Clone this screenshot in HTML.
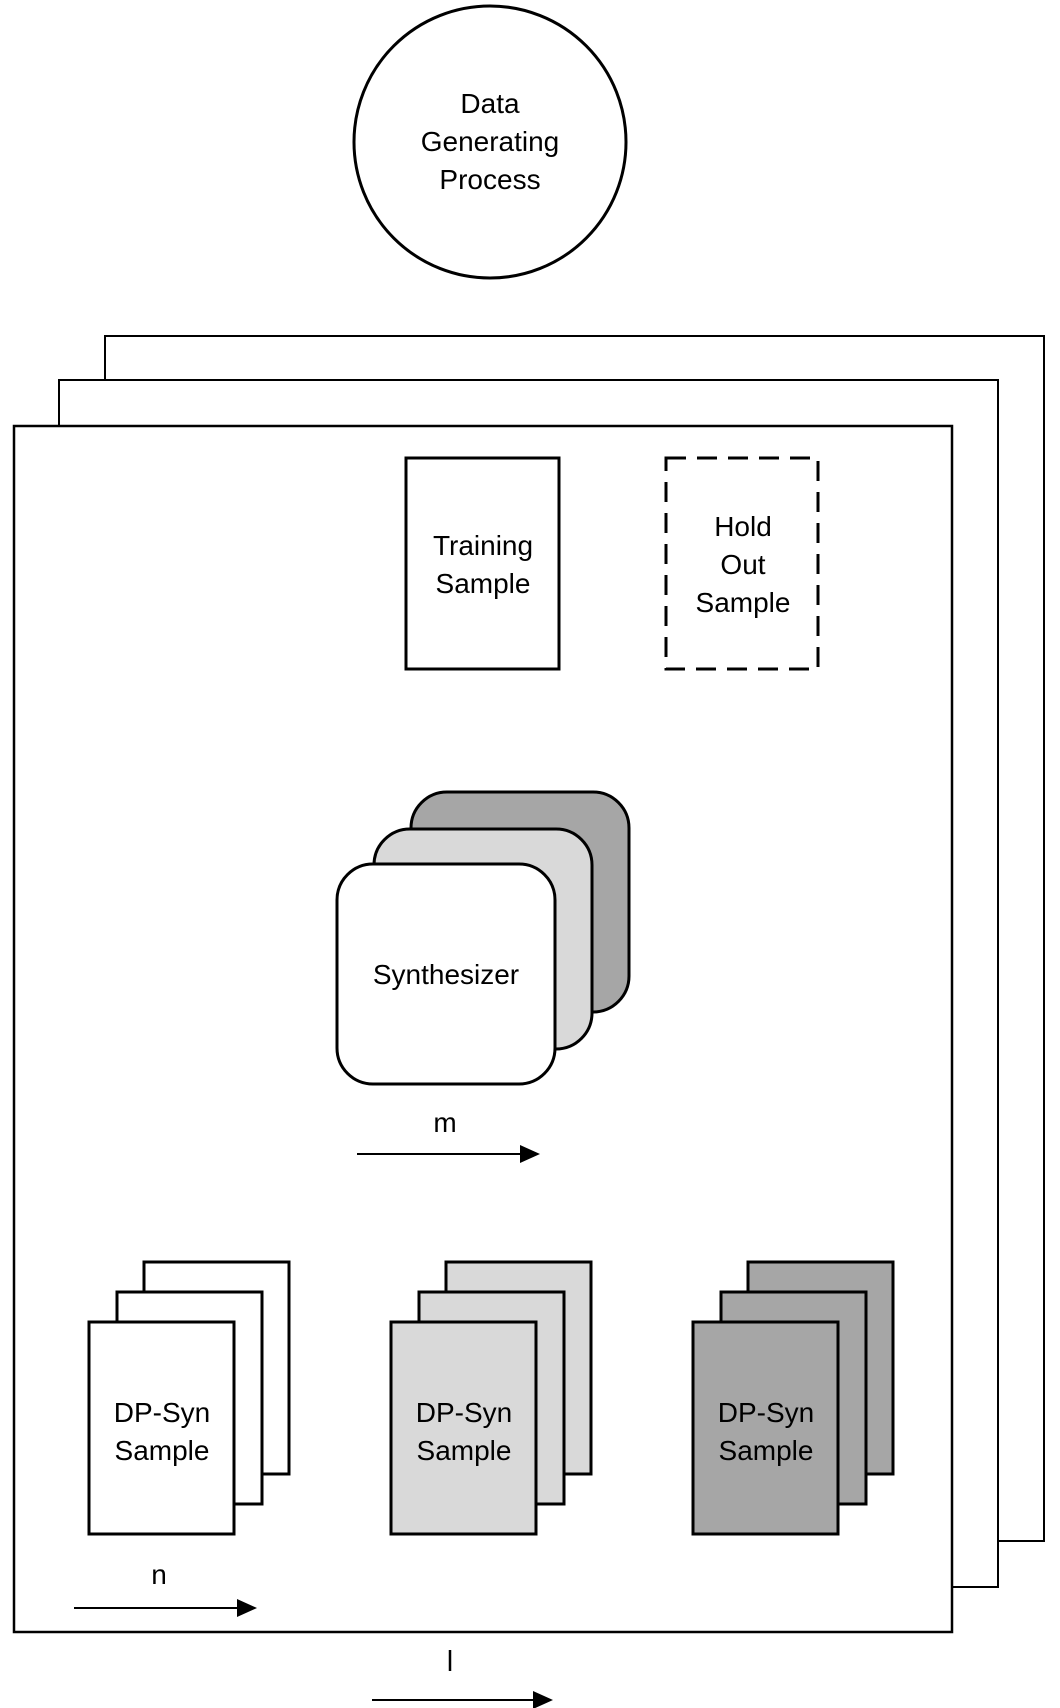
<!DOCTYPE html>
<html><head><meta charset="utf-8"><style>
html,body{margin:0;padding:0;background:#fff}
svg{display:block}
text{font-family:"Liberation Sans",sans-serif;font-size:28px;fill:#000;text-anchor:middle}
</style></head><body>
<svg width="1060" height="1708" viewBox="0 0 1060 1708" xmlns="http://www.w3.org/2000/svg">
<circle cx="490" cy="142" r="136" fill="#fff" stroke="#000" stroke-width="3"/>
<text x="490" y="113">Data</text>
<text x="490" y="151">Generating</text>
<text x="490" y="189">Process</text>

<rect x="105" y="336" width="939" height="1205" fill="#fff" stroke="#000" stroke-width="2"/>
<rect x="59" y="380" width="939" height="1207" fill="#fff" stroke="#000" stroke-width="2"/>
<rect x="14" y="426" width="938" height="1206" fill="#fff" stroke="#000" stroke-width="2.5"/>

<rect x="406" y="458" width="153" height="211" fill="#fff" stroke="#000" stroke-width="3"/>
<text x="483" y="555">Training</text>
<text x="483" y="593">Sample</text>
<rect x="666" y="458" width="152" height="211" fill="#fff" stroke="#000" stroke-width="3" stroke-dasharray="20,11"/>
<text x="743" y="536">Hold</text>
<text x="743" y="574">Out</text>
<text x="743" y="612">Sample</text>

<rect x="411" y="792" width="218" height="220" rx="36" fill="#a6a6a6" stroke="#000" stroke-width="3"/>
<rect x="374" y="829" width="218" height="220" rx="36" fill="#d9d9d9" stroke="#000" stroke-width="3"/>
<rect x="337" y="864" width="218" height="220" rx="36" fill="#fff" stroke="#000" stroke-width="3"/>
<text x="446" y="984">Synthesizer</text>
<text x="445" y="1132">m</text>
<line x1="357" y1="1154" x2="524" y2="1154" stroke="#000" stroke-width="2"/>
<path d="M520,1145 L540,1154 L520,1163 Z"/>

<g stroke="#000" stroke-width="3">
<rect x="144" y="1262" width="145" height="212" fill="#fff"/>
<rect x="117" y="1292" width="145" height="212" fill="#fff"/>
<rect x="89" y="1322" width="145" height="212" fill="#fff"/>
<rect x="446" y="1262" width="145" height="212" fill="#d9d9d9"/>
<rect x="419" y="1292" width="145" height="212" fill="#d9d9d9"/>
<rect x="391" y="1322" width="145" height="212" fill="#d9d9d9"/>
<rect x="748" y="1262" width="145" height="212" fill="#a6a6a6"/>
<rect x="721" y="1292" width="145" height="212" fill="#a6a6a6"/>
<rect x="693" y="1322" width="145" height="212" fill="#a6a6a6"/>
</g>
<text x="162" y="1422">DP-Syn</text><text x="162" y="1460">Sample</text>
<text x="464" y="1422">DP-Syn</text><text x="464" y="1460">Sample</text>
<text x="766" y="1422">DP-Syn</text><text x="766" y="1460">Sample</text>

<text x="159" y="1584">n</text>
<line x1="74" y1="1608" x2="240" y2="1608" stroke="#000" stroke-width="2"/>
<path d="M237,1599 L257,1608 L237,1617 Z"/>
<line x1="450" y1="1650" x2="450" y2="1671" stroke="#000" stroke-width="2.5"/>
<line x1="372" y1="1700" x2="536" y2="1700" stroke="#000" stroke-width="2"/>
<path d="M533,1691 L553,1700 L533,1709 Z"/>
</svg>
</body></html>
